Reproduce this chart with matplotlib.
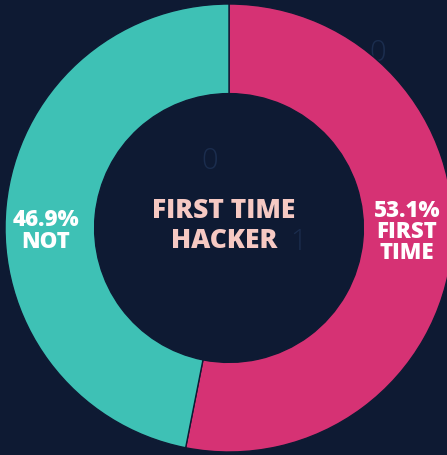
import matplotlib
matplotlib.use("Agg")
import matplotlib.pyplot as plt

# data
labels = ["FIRST\nTIME", "NOT"]
shares = [53.1, 46.9]
colors = ["#d63274", "#3ec1b5"]
title_text = "FIRST TIME\nHACKER"

bg = "#0e1a33"
W, H = 447, 456
cx, cy, R = 229, 456 - 229, 224

fig = plt.figure(figsize=(W / 100, H / 100), dpi=100, facecolor=bg)
ax = fig.add_axes([0, 0, 1, 1])
ax.set_facecolor(bg)

# faint background digits
for x, y, d in [(378, 456 - 53, "0"), (210, 456 - 161, "0"), (298, 456 - 242, "1")]:
    ax.text(x, y, d, color="#1b2d4e", fontsize=21, ha="center", va="center",
            family="Open Sans", fontweight="light", zorder=0)

ax.pie(shares, colors=colors, startangle=90, counterclock=False,
       center=(cx, cy), radius=R, frame=True,
       wedgeprops=dict(width=R * 0.4, edgecolor=bg, linewidth=1))
ax.set_xlim(0, W)
ax.set_ylim(0, H)
ax.axis("off")

ax.text(407, 456 - 232, f"{shares[0]}%\n{labels[0]}", color="white", fontsize=16,
        fontweight="heavy", family="Open Sans", ha="center", va="center",
        linespacing=0.85)
ax.text(46, 456 - 231, f"{shares[1]}%\n{labels[1]}", color="white", fontsize=16,
        fontweight="heavy", family="Open Sans", ha="center", va="center",
        linespacing=0.85)

ax.text(224, 456 - 226, title_text, color="#f6c9c3", fontsize=19,
        fontweight="heavy", family="Open Sans", ha="center", va="center",
        linespacing=1.25)

fig.savefig("out.png", dpi=100, facecolor=bg)
